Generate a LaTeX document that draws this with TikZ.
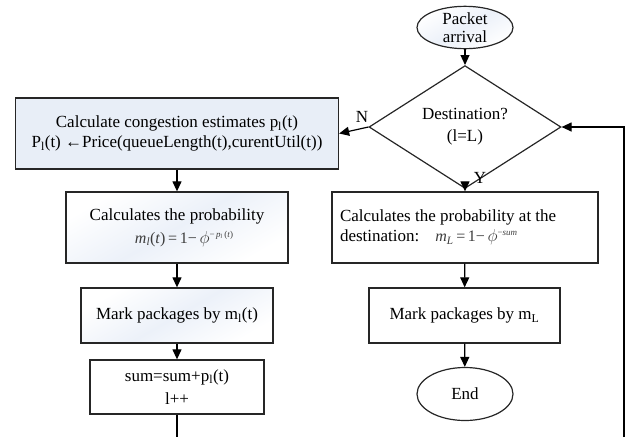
\documentclass[tikz,border=0pt]{standalone}
\usepackage{fontspec}
\setmainfont{Liberation Serif}
\usetikzlibrary{shapes.geometric,arrows.meta,calc}
\definecolor{boxblue}{RGB}{232,238,247}
\definecolor{streak}{RGB}{236,241,249}
\definecolor{formgray}{RGB}{60,60,60}
\newcommand{\fml}[1]{{\fontsize{16}{16}\selectfont\color{formgray}#1}}
\newcommand{\sml}[1]{{\fontsize{9}{9}\selectfont\raisebox{6pt}{#1}}}
\begin{document}
\begin{tikzpicture}[x=1pt,y=-1pt,
  every node/.style={font=\fontsize{17}{20}\selectfont},
  box/.style={draw=black!85, line width=1.3pt, rectangle, inner sep=0pt, align=center},
  term/.style={draw=black!85, line width=1.2pt, ellipse, inner sep=0pt, align=center},
  decision/.style={draw=black!85, line width=1.2pt, diamond, inner sep=0pt, align=center},
  streaked/.style={shading=axis, left color=white, right color=white, middle color=streak, shading angle=30},
  arr/.style={line width=1.2pt, -{Triangle[length=10pt,width=9pt]}},
  ln/.style={line width=1.2pt},
  lbl/.style={inner sep=0pt}
]
\useasboundingbox (0,0) rectangle (630,437);

\node[term, streaked, minimum width=96pt, minimum height=41pt, font=\fontsize{17}{18}\selectfont] (start) at (465,27.5) {Packet\\arrival};
\node[decision, minimum width=192pt, minimum height=82pt, font=\fontsize{17}{22}\selectfont] (dest) at (465,127) {Destination?\\(l=L)};

\node[box, fill=boxblue, minimum width=323pt, minimum height=71pt] (b1) at (177,133.5)
  {Calculate congestion estimates p\textsubscript{l}(t)\\P\textsubscript{l}(t) ←Price(queueLength(t),curentUtil(t))};
\node[box, streaked, minimum width=222pt, minimum height=71pt] (b2) at (177,227.5)
  {Calculates the probability\\[3pt]\hspace*{14pt}\fml{\textit{m}\textsubscript{\textit{l}}(\textit{t})\,=\,1−\,$\phi$\sml{−\,\textit{p}\textsubscript{\textit{l}}\,(\textit{t})}}};
\node[box, streaked, minimum width=192pt, minimum height=55pt] (b3) at (177,315.5) {Mark packages by m\textsubscript{l}(t)};
\node[box, minimum width=174pt, minimum height=54pt, font=\fontsize{17}{23}\selectfont] (b4) at (177,387) {sum=sum+p\textsubscript{l}(t)\\l++};

\node[box, minimum width=266pt, minimum height=71pt, text width=250pt, align=flush left] (b5) at (465,227.5)
  {Calculates the probability at the\\destination:\hspace{16pt}\fml{\textit{m}\textsubscript{\textit{L}}\,=\,1−\,$\phi$\sml{−\textit{sum}}}};
\node[box, minimum width=191pt, minimum height=55pt] (b6) at (464.5,315.5) {Mark packages by m\textsubscript{L}};
\node[term, minimum width=96pt, minimum height=53pt] (end) at (465,394) {End};

\node[lbl] (labN) at (362,117) {N};
\node[lbl] (labY) at (480,178) {Y};

\coordinate (loopL) at (177,437);
\coordinate (loopR) at (624,437);

\draw[arr] (start) -- (dest);
\draw[arr] (dest.west) -- (b1.east);
\draw[arr] (dest) -- (b5);
\draw[arr] (b1) -- (b2);
\draw[arr] (b2) -- (b3);
\draw[arr] (b3) -- (b4);
\draw[ln] (b4) -- (loopL);
\draw[arr] (loopR) |- (dest.east);
\draw[arr] (b5) -- (b6);
\draw[arr] (b6) -- (end);
\end{tikzpicture}
\end{document}
